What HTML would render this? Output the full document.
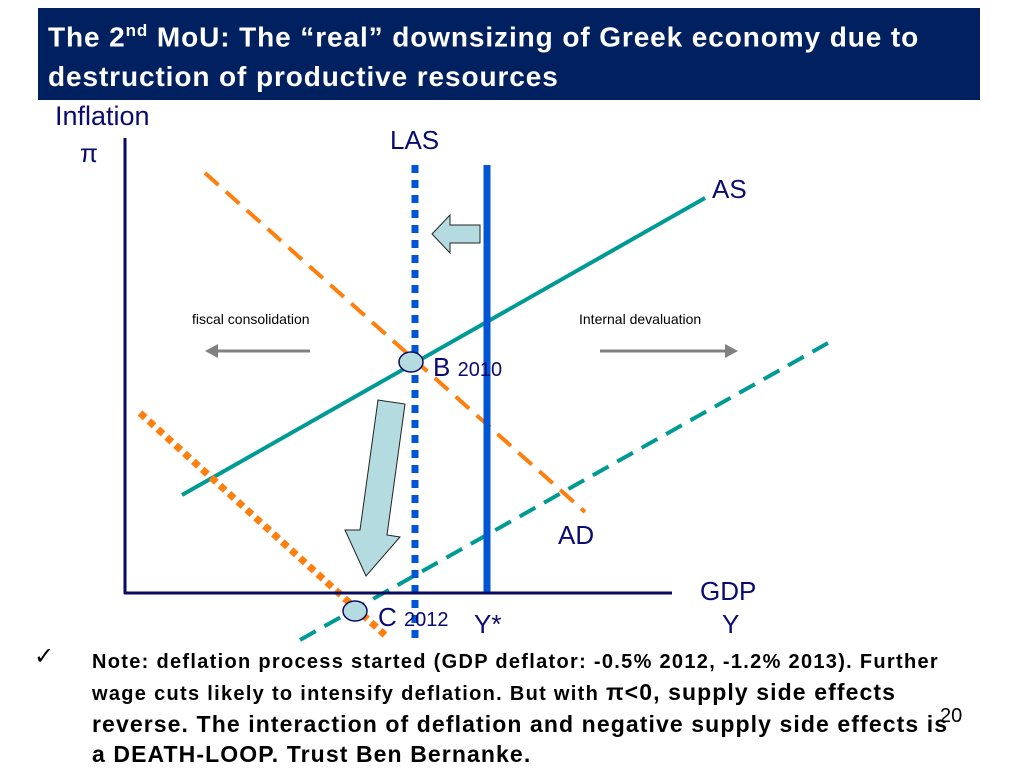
<!DOCTYPE html>
<html><head><meta charset="utf-8"><style>
body{margin:0;background:#fff;width:1024px;height:768px;overflow:hidden;font-family:"Liberation Sans",sans-serif}
#title{position:absolute;left:38px;top:8px;width:942px;height:92px;background:#002060;color:#fff;font-weight:bold;font-size:28px;line-height:40px;box-sizing:border-box;padding:3px 0 0 10px;letter-spacing:0.9px;white-space:nowrap}
.t{position:absolute;color:#0a0a70;font-size:26px;white-space:nowrap}
.note{position:absolute;left:92px;top:645px;width:900px;font-size:23px;letter-spacing:1.1px;font-weight:bold;line-height:30px;color:#000;white-space:nowrap}
.cal{font-size:20px;letter-spacing:1.3px}
</style></head><body>
<div id="title">The 2<sup style="font-size:17px">nd</sup> MoU: The “real” downsizing of Greek economy due to<br>destruction of productive resources</div>
<svg width="1024" height="768" style="position:absolute;left:0;top:0">
<g id="marks"></g>
<path d="M378,400 L405,404 L387,535 L400,537 L366,576 L345,530 L360,530 Z" fill="#b4dbe0" stroke="#222" stroke-width="1"/>
<path d="M480,225 L480,243 L450,243 L450,253 L432,234 L450,215 L450,225 Z" fill="#b4dbe0" stroke="#222" stroke-width="1"/>
<line x1="310" y1="351" x2="215" y2="351" stroke="#808080" stroke-width="3"/>
<path d="M205,351 L218,344 L218,358 Z" fill="#808080"/>
<line x1="600" y1="351" x2="726" y2="351" stroke="#808080" stroke-width="3"/>
<path d="M738,351 L725,344 L725,358 Z" fill="#808080"/>
<line x1="125" y1="138" x2="125" y2="594" stroke="#0a0a60" stroke-width="3"/>
<line x1="124" y1="593" x2="672" y2="593" stroke="#0a0a60" stroke-width="3"/>
<ellipse cx="411" cy="362" rx="12" ry="10" fill="#b4dbe0" stroke="#0a0a60" stroke-width="1.5"/>
<ellipse cx="355" cy="611" rx="12" ry="10" fill="#b4dbe0" stroke="#0a0a60" stroke-width="1.5"/>
</svg>
<div class="t" style="left:55px;top:101px;font-size:27px">Inflation</div>
<div class="t" style="left:80px;top:138px">π</div>
<div class="t" style="left:390px;top:125px">LAS</div>
<div class="t" style="left:712px;top:174px">AS</div>
<div class="t" style="left:558px;top:520px">AD</div>
<div class="t" style="left:700px;top:576px">GDP</div>
<div class="t" style="left:722px;top:609px">Y</div>
<div class="t" style="left:474px;top:609px">Y*</div>
<div class="t" style="left:433px;top:352px">B <span style="font-size:20px">2010</span></div>
<div class="t" style="left:378px;top:602px">C <span style="font-size:20px">2012</span></div>
<div class="t" style="left:192px;top:311px;font-size:14px;color:#000">fiscal consolidation</div>
<div class="t" style="left:579px;top:311px;font-size:14px;color:#000">Internal devaluation</div>
<div class="t" style="left:34px;top:642px;color:#000;font-size:24px">✓</div>
<div class="note"><span class="cal">Note: deflation process started (GDP deflator: -0.5% 2012, -1.2% 2013). Further</span><br><span class="cal">wage cuts likely to intensify deflation. But with </span>π&lt;0, supply side effects<br>reverse. The interaction of deflation and negative supply side effects is<br>a DEATH-LOOP. Trust Ben Bernanke.</div>
<div class="t" style="left:940px;top:705px;font-size:20px;color:#000">20</div>
<script>
// curve endpoints in data units (x: GDP, y: inflation); axis origin (0,0)
const curveNames=["as","as-new","ad","ad-new","las","ystar"];
const curveX1=[57,175,80,15,290,362];
const curveY1=[98,-47,420,180,428,428];
const curveX2=[580,703,460,260,290,362];
const curveY2=[395,250,81,-42,-47,0];
const curveColor=["#009a94","#009a94","#ff7f0e","#ff7f0e","#0055d4","#0055d4"];
const curveDash=["","18,10","18,10","7,5","8,7",""];
const curveWidth=[4,4,4,7,7,7];
function sx(v){return 125+v;}
function sy(v){return 593-v;}
const g=document.getElementById('marks');
for(let i=0;i<curveNames.length;i++){
  const l=document.createElementNS('http://www.w3.org/2000/svg','line');
  l.setAttribute('x1',sx(curveX1[i]));l.setAttribute('y1',sy(curveY1[i]));
  l.setAttribute('x2',sx(curveX2[i]));l.setAttribute('y2',sy(curveY2[i]));
  l.setAttribute('stroke',curveColor[i]);l.setAttribute('stroke-width',curveWidth[i]);
  if(curveDash[i])l.setAttribute('stroke-dasharray',curveDash[i]);
  
  
  g.appendChild(l);
}
</script>
</body></html>
